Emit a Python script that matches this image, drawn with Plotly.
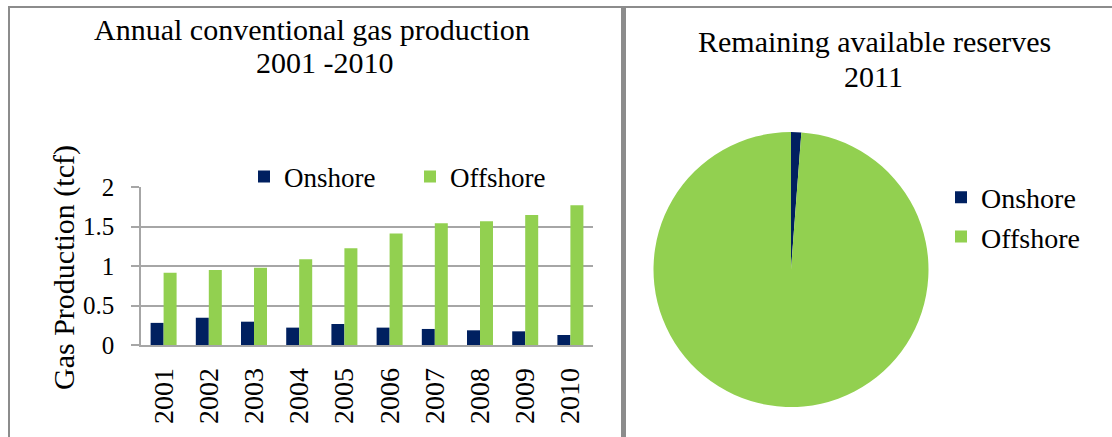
import plotly.graph_objects as go

W, H = 1112, 437

years = ["2001", "2002", "2003", "2004", "2005", "2006", "2007", "2008", "2009", "2010"]
onshore = [0.28, 0.345, 0.295, 0.22, 0.266, 0.22, 0.203, 0.186, 0.173, 0.127]
offshore = [0.915, 0.95, 0.979, 1.085, 1.224, 1.41, 1.54, 1.566, 1.646, 1.768]

pie_labels = ["Onshore", "Offshore"]
pie_values = [1.2, 98.8]

y_ticks = [0, 0.5, 1, 1.5, 2]
y_ticktext = ["0", "0.5", "1", "1.5", "2"]

NAVY = "#002060"
GREEN = "#92D050"
GRID = "#a6a6a6"
BORDER = "#8c8c8c"
FONT = "Liberation Serif"


def px(x):
    return x / W


def py(y):
    return 1 - y / H


fig = go.Figure()
fig.add_trace(go.Bar(x=years, y=onshore, name="Onshore", marker=dict(color=NAVY, line=dict(width=0)),
                     legend="legend"))
fig.add_trace(go.Bar(x=years, y=offshore, name="Offshore", marker=dict(color=GREEN, line=dict(width=0)),
                     legend="legend"))
fig.add_trace(go.Pie(labels=pie_labels, values=pie_values, sort=False, direction="clockwise", rotation=0,
                     marker=dict(colors=[NAVY, GREEN], line=dict(width=0)), textinfo="none",
                     hoverinfo="label+percent",
                     domain=dict(x=[px(653.5), px(928.5)], y=[py(407), py(132)]),
                     legend="legend2"))

fig.update_layout(
    width=W, height=H,
    margin=dict(l=0, r=0, t=0, b=0, autoexpand=False),
    paper_bgcolor="white", plot_bgcolor="white",
    font=dict(family=FONT, color="black"),
    barmode="group", bargap=0.425, bargroupgap=0,
    xaxis=dict(domain=[px(141), px(593)], type="category", showgrid=False, automargin=False,
               showline=True, linecolor=GRID, linewidth=1.5, ticks="",
               tickangle=-90, tickfont=dict(family=FONT, size=28, color="black"),
               ticklabelstandoff=10),
    yaxis=dict(domain=[py(345), py(187)], range=[0, 2], tickvals=y_ticks, ticktext=y_ticktext,
               showgrid=True, gridcolor=GRID, gridwidth=1.5, zeroline=False, automargin=False,
               showline=True, linecolor=GRID, linewidth=1.5,
               ticks="outside", ticklen=8, tickcolor=GRID, tickwidth=1.5,
               tickfont=dict(family=FONT, size=25, color="black"), ticklabelstandoff=12),
    legend=dict(orientation="h", x=px(244), xanchor="left", y=py(177), yanchor="middle",
                font=dict(family=FONT, size=27, color="black"), bgcolor="rgba(0,0,0,0)",
                entrywidth=121, tracegroupgap=0, itemclick=False),
    legend2=dict(orientation="v", x=px(941), xanchor="left", y=py(217), yanchor="middle",
                 font=dict(family=FONT, size=28, color="black"), bgcolor="rgba(0,0,0,0)",
                 itemclick=False),
    showlegend=True,
)

annots = [
    dict(text="Annual conventional gas production", x=px(312), y=py(29), size=30),
    dict(text="2001 -2010", x=px(325), y=py(63), size=30),
    dict(text="Remaining available reserves", x=px(874), y=py(41), size=30),
    dict(text="2011", x=px(873), y=py(76), size=30),
]
for a in annots:
    fig.add_annotation(text=a["text"], x=a["x"], y=a["y"], xref="paper", yref="paper",
                       xanchor="center", yanchor="middle", showarrow=False,
                       font=dict(family=FONT, size=a["size"], color="black"))

fig.add_annotation(text="Gas Production (tcf)", x=px(64), y=py(268), xref="paper", yref="paper",
                   xanchor="center", yanchor="middle", textangle=-90, showarrow=False,
                   font=dict(family=FONT, size=30, color="black"))

# panel borders
fig.add_shape(type="line", xref="paper", yref="paper", x0=px(8), x1=1, y0=py(7), y1=py(7),
              line=dict(color=BORDER, width=2))
fig.add_shape(type="line", xref="paper", yref="paper", x0=px(9), x1=px(9), y0=py(7), y1=0,
              line=dict(color=BORDER, width=2))
fig.add_shape(type="rect", xref="paper", yref="paper", x0=px(621), x1=px(626), y0=0, y1=py(7),
              fillcolor=BORDER, line=dict(width=0))

fig.write_html("out.html", config={"displayModeBar": False},
               post_script="document.body.style.margin='0';document.body.style.overflow='hidden';")
